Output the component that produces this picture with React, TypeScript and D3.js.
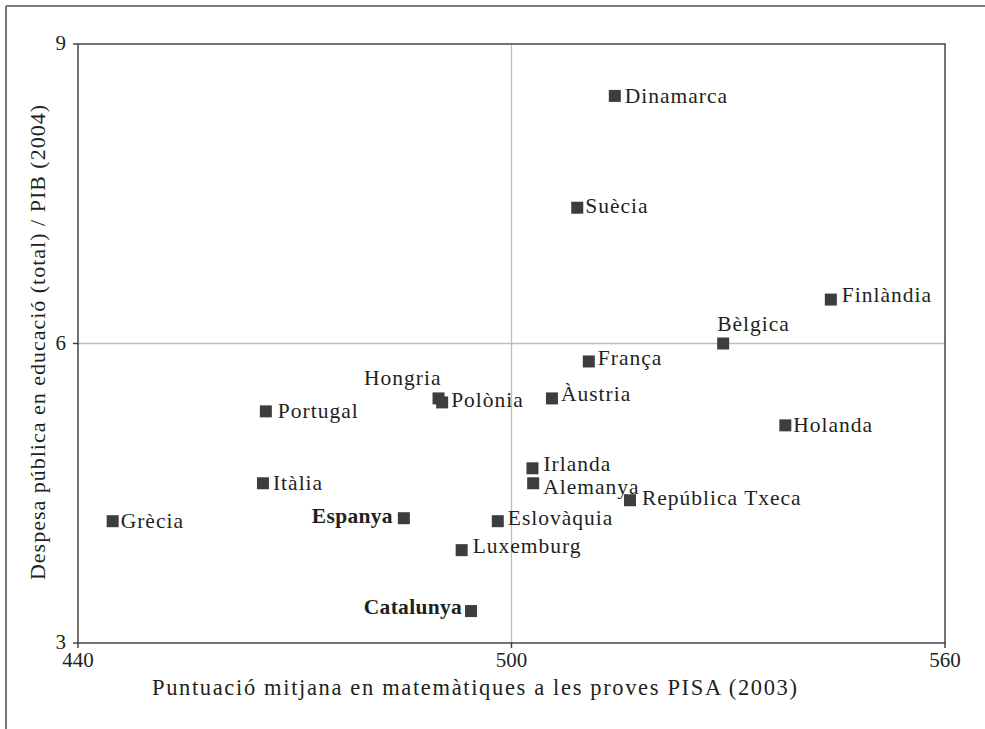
import React from 'react';
import * as d3 from 'd3';

// PISA 2003 maths score vs. public spending on education / GDP (2004)
const countries = [
  'Dinamarca', 'Suècia', 'Finlàndia', 'Bèlgica', 'França', 'Hongria', 'Polònia',
  'Àustria', 'Portugal', 'Holanda', 'Irlanda', 'Alemanya', 'Itàlia',
  'República Txeca', 'Grècia', 'Espanya', 'Eslovàquia', 'Luxemburg', 'Catalunya',
];
const pisaScore = [
  514.3, 509.1, 544.2, 529.3, 510.7, 489.9, 490.4,
  505.6, 466.0, 537.9, 502.9, 503.0, 465.6,
  516.4, 444.8, 485.1, 498.1, 493.1, 494.4,
];
const spending = [
  8.48, 7.36, 6.44, 6.0, 5.82, 5.45, 5.41,
  5.45, 5.32, 5.18, 4.75, 4.6, 4.6,
  4.43, 4.22, 4.25, 4.22, 3.93, 3.32,
];
const highlighted = ['Espanya', 'Catalunya'];

const xTicks = [440, 500, 560];
const yTicks = [3, 6, 9];

// label placement relative to the marker centre: [dx, dy, anchor]
const labelPlace: Record<string, [number, number, string]> = {
  'Dinamarca': [10, 7, 'start'],
  'Suècia': [8, 5, 'start'],
  'Finlàndia': [11, 2, 'start'],
  'Bèlgica': [-6, -13, 'start'],
  'França': [9, 4, 'start'],
  'Hongria': [3, -13, 'end'],
  'Polònia': [9, 5, 'start'],
  'Àustria': [9, 3, 'start'],
  'Portugal': [12, 7, 'start'],
  'Holanda': [8, 7, 'start'],
  'Irlanda': [11, 3, 'start'],
  'Alemanya': [10, 11, 'start'],
  'Itàlia': [10, 7, 'start'],
  'República Txeca': [12, 5, 'start'],
  'Grècia': [8, 7, 'start'],
  'Espanya': [-11, 5, 'end'],
  'Eslovàquia': [10, 4, 'start'],
  'Luxemburg': [11, 3, 'start'],
  'Catalunya': [-9, 3, 'end'],
};

const W = 985;
const H = 729;
const margin = { top: 44, right: 40, bottom: 86, left: 78 };
const FONT = '"Liberation Serif", "Times New Roman", serif';
const INK = '#231f20';

export default function App() {
  const x = d3.scaleLinear().domain([440, 560]).range([margin.left, W - margin.right]);
  const y = d3.scaleLinear().domain([3, 9]).range([H - margin.bottom, margin.top]);
  const sq = 12;

  const pts = countries.map((c, i) => ({ name: c, px: x(pisaScore[i]), py: y(spending[i]) }));

  return (
    <svg width={W} height={H} style={{ position: 'absolute', left: 0, top: 0, background: '#fff' }}
      fontFamily={FONT}>
      {/* outer frame */}
      <line x1={6} y1={6} x2={W} y2={6} stroke="#555" strokeWidth={1.6} />
      <line x1={6} y1={6} x2={6} y2={H} stroke="#555" strokeWidth={1.6} />

      {/* reference lines */}
      <line x1={x(500)} x2={x(500)} y1={y(9)} y2={y(3)} stroke="#bdbdbd" strokeWidth={1.3} />
      <line x1={x(440)} x2={x(560)} y1={y(6)} y2={y(6)} stroke="#bdbdbd" strokeWidth={1.3} />

      {/* plot box */}
      <rect x={x(440)} y={y(9)} width={x(560) - x(440)} height={y(3) - y(9)}
        fill="none" stroke="#3a3a3a" strokeWidth={1.4} />

      {/* y ticks */}
      {yTicks.map(t => (
        <g key={'y' + t}>
          <line x1={x(440) - 5} x2={x(440)} y1={y(t)} y2={y(t)} stroke="#3a3a3a" strokeWidth={1.4} />
          <text x={x(440) - 12} y={y(t) + 6} textAnchor="end" fontSize={21} fill={INK}>{t}</text>
        </g>
      ))}
      {/* x ticks */}
      {xTicks.map(t => (
        <g key={'x' + t}>
          <line x1={x(t)} x2={x(t)} y1={y(3)} y2={y(3) + 5} stroke="#3a3a3a" strokeWidth={1.4} />
          <text x={x(t)} y={y(3) + 24} textAnchor="middle" fontSize={21} fill={INK}>{t}</text>
        </g>
      ))}

      {/* axis titles */}
      <text x={152} y={695} fontSize={22.5} fill={INK} textLength={645} lengthAdjust="spacing">
        Puntuació mitjana en matemàtiques a les proves PISA (2003)
      </text>
      <text transform="translate(45,580) rotate(-90)" fontSize={22} fill={INK}
        textLength={475} lengthAdjust="spacing">
        Despesa pública en educació (total) / PIB (2004)
      </text>

      {/* markers */}
      {pts.map(p => (
        <rect key={'m' + p.name} x={p.px - sq / 2} y={p.py - sq / 2} width={sq} height={sq} fill="#3d3d3d" />
      ))}
      {/* labels */}
      {pts.map(p => {
        const [dx, dy, anchor] = labelPlace[p.name];
        const bold = highlighted.includes(p.name);
        return (
          <text key={'l' + p.name} x={p.px + dx} y={p.py + dy} textAnchor={anchor as any}
            fontSize={21.5} fill={INK} fontWeight={bold ? 'bold' : 'normal'}
            letterSpacing={bold ? 0.3 : 1}>
            {p.name}
          </text>
        );
      })}
    </svg>
  );
}
